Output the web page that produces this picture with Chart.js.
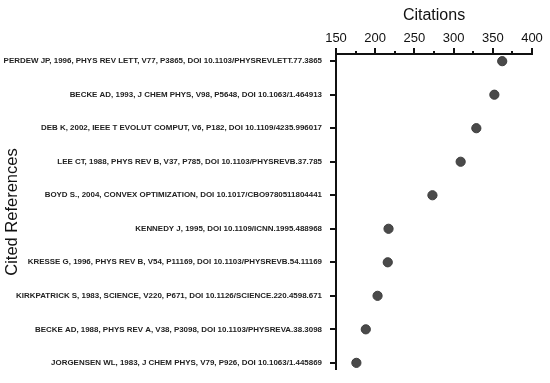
<!DOCTYPE html>
<html>
<head>
<meta charset="utf-8">
<script src="https://cdn.jsdelivr.net/npm/chart.js@4.4.1/dist/chart.umd.min.js"></script>
<style>
  html, body { margin: 0; padding: 0; background: #fff; }
  #wrap { width: 550px; height: 383px; }
</style>
</head>
<body>
<div id="wrap"><canvas id="dots"></canvas></div>
<script>
const references = [
  "PERDEW JP, 1996, PHYS REV LETT, V77, P3865, DOI 10.1103/PHYSREVLETT.77.3865",
  "BECKE AD, 1993, J CHEM PHYS, V98, P5648, DOI 10.1063/1.464913",
  "DEB K, 2002, IEEE T EVOLUT COMPUT, V6, P182, DOI 10.1109/4235.996017",
  "LEE CT, 1988, PHYS REV B, V37, P785, DOI 10.1103/PHYSREVB.37.785",
  "BOYD S., 2004, CONVEX OPTIMIZATION, DOI 10.1017/CBO9780511804441",
  "KENNEDY J, 1995, DOI 10.1109/ICNN.1995.488968",
  "KRESSE G, 1996, PHYS REV B, V54, P11169, DOI 10.1103/PHYSREVB.54.11169",
  "KIRKPATRICK S, 1983, SCIENCE, V220, P671, DOI 10.1126/SCIENCE.220.4598.671",
  "BECKE AD, 1988, PHYS REV A, V38, P3098, DOI 10.1103/PHYSREVA.38.3098",
  "JORGENSEN WL, 1983, J CHEM PHYS, V79, P926, DOI 10.1063/1.445869",
];
const citations = [362, 352, 329, 309, 273, 217, 216, 203, 188, 176];
const xMin = 150;
const xMax = 400;
const majorStep = 50;
const minorStep = 25;

Chart.defaults.font.family = "Arial, 'Liberation Sans', sans-serif";
Chart.defaults.color = "#111";

const ink = "#111";
const clear = "rgba(0,0,0,0)";
const isMajor = (v) => v % majorStep === 0;

// axis lines + tick marks from the scales, as filled boxes (short marks for minor ticks)
const axisFrame = {
  id: "axisFrame",
  afterDraw(chart) {
    const { ctx, chartArea: a, scales: { x, y } } = chart;
    const top = Math.round(a.top);
    const left = Math.round(a.left);
    ctx.save();
    ctx.fillStyle = ink;
    x.ticks.forEach((t) => {
      const px = Math.round(x.getPixelForValue(t.value));
      const len = isMajor(t.value) ? 6 : 3;
      ctx.fillRect(px - 1, top - len, 2, len);
    });
    y.ticks.forEach((t) => {
      const py = Math.round(y.getPixelForValue(t.value));
      ctx.fillRect(left - 6, py - 1, 6, 2);
    });
    ctx.fillRect(left - 1, top - 1, 2, Math.round(a.bottom) - top + 1);
    ctx.fillRect(left - 1, top - 1, Math.round(a.right) - left + 2, 2);
    ctx.restore();
  },
};

new Chart(document.getElementById("dots").getContext("2d"), {
  type: "scatter",
  data: {
    datasets: [
      {
        data: citations.map((c, i) => ({ x: c, y: i })),
        backgroundColor: "#4a4a4a",
        borderColor: "#3c3c3c",
        borderWidth: 1,
        pointRadius: 4.6,
      },
    ],
  },
  options: {
    responsive: true,
    maintainAspectRatio: false,
    animation: false,
    layout: { padding: { top: 0, right: 18, bottom: 0, left: 0 } },
    plugins: { legend: { display: false }, tooltip: { enabled: false } },
    scales: {
      x: {
        type: "linear",
        position: "top",
        min: xMin,
        max: xMax,
        ticks: {
          stepSize: minorStep,
          autoSkip: false,
          maxRotation: 0,
          callback: (v) => (isMajor(v) ? v : ""),
          font: { size: 13 },
          color: ink,
          padding: 2,
        },
        grid: { drawOnChartArea: false, tickLength: 6, color: clear, tickColor: clear },
        border: { display: false },
        title: {
          display: true,
          text: "Citations",
          font: { size: 16 },
          color: ink,
          padding: { top: 6, bottom: 3 },
        },
      },
      y: {
        type: "linear",
        reverse: true,
        min: -0.22,
        max: 9.22,
        afterBuildTicks: (s) => {
          s.ticks = references.map((_, i) => ({ value: i }));
        },
        ticks: {
          autoSkip: false,
          callback: (v) => references[v],
          font: { size: 7.95, weight: "bold" },
          color: "#222",
          padding: 8,
        },
        grid: { drawOnChartArea: false, tickLength: 6, color: clear, tickColor: clear },
        border: { display: false },
        title: {
          display: true,
          text: "Cited References",
          font: { size: 16.5 },
          color: ink,
          padding: { top: 3, bottom: 0 },
        },
        afterFit: (s) => { s.width = 336; },
      },
    },
  },
  plugins: [axisFrame],
});
</script>
</body>
</html>
